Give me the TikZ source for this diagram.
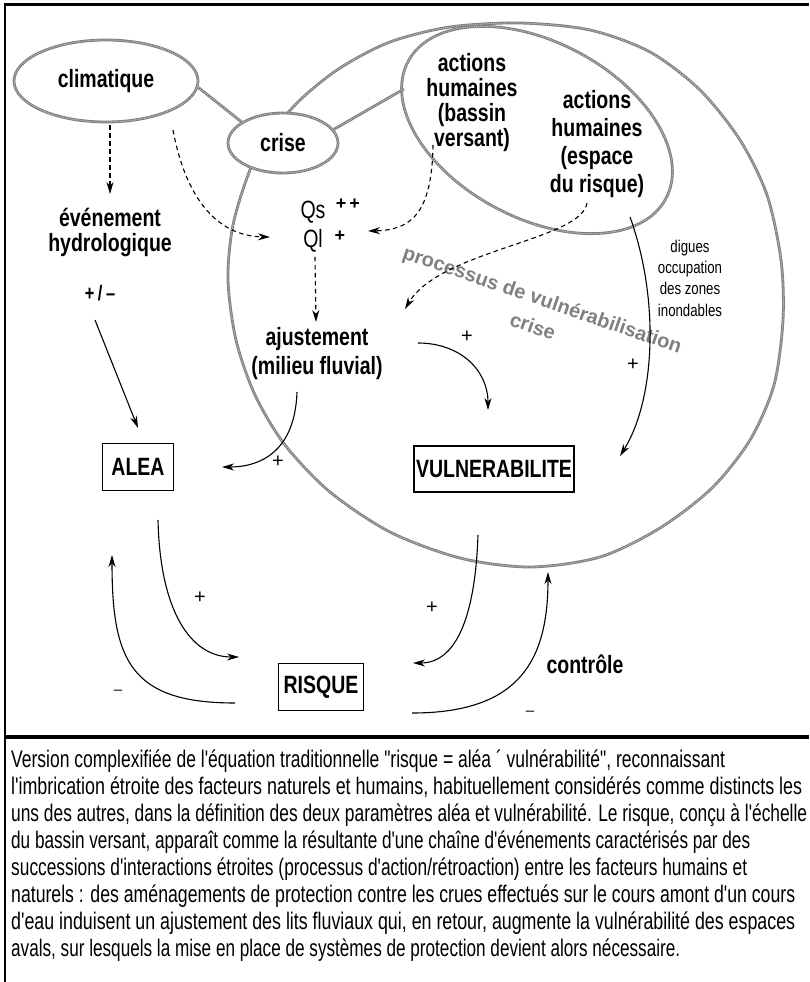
\documentclass[tikz,border=0pt]{standalone}
\usepackage{fontspec}
\usepackage{graphicx}
\setmainfont{Liberation Sans}
\newfontfamily\diaf[FakeStretch=0.78]{Liberation Sans}
\newfontfamily\capf[FakeStretch=0.76]{Liberation Sans}
\usetikzlibrary{shapes.geometric,arrows.meta}
\tikzset{
  rope/.style={draw=black!50, line width=2.8pt, postaction={draw=black!22, line width=0.9pt, dash pattern=on 1pt off 1.2pt}},
  ell/.style={ellipse, rope, fill=white, inner sep=0pt, font=\diaf\bfseries\fontsize{25}{25}\selectfont},
  lab/.style={font=\diaf\bfseries\fontsize{25}{25}\selectfont, inner sep=0pt, align=center},
  boxn/.style={draw, line width=1.3pt, inner sep=0pt, font=\diaf\bfseries\fontsize{25}{25}\selectfont},
  smalltxt/.style={font=\diaf\fontsize{17}{21.3}\selectfont, inner sep=0pt, align=center},
  sign/.style={font=\fontsize{20}{20}\selectfont, inner sep=0pt},
  arr/.style={line width=1.1pt, -{Stealth[length=12pt,width=7pt]}},
  dsh/.style={arr, dash pattern=on 4.5pt off 3.5pt},
  captxt/.style={font=\capf\fontsize{24}{27}\selectfont, anchor=base west, inner sep=0pt},
}
\begin{document}
\begin{tikzpicture}[x=1pt,y=-1pt]
\useasboundingbox (0,0) rectangle (809,982);
% frame
\draw[line width=3pt] (3.5,5) -- (809,5);
\draw[line width=2.5pt] (5,5) -- (5,982);
\draw[line width=3.5pt] (3.5,737) -- (809,737);

% big ellipse
\draw[rope] plot[smooth cycle] coordinates {(250,170) (233,225) (228,280) (236,340) (255,395) (285,445) (330,492) (390,532) (460,558) (530,567) (600,557) (660,528) (712,488) (750,440) (774,385) (783,320) (781,260) (767,195) (740,140) (700,90) (650,52) (590,30) (520,23) (450,27) (390,42) (340,68) (300,100) (270,135)};
% actions humaines ellipse
\draw[rope, rotate around={-28:(537,130)}] (537,130) ellipse [x radius=146, y radius=88];

\node[ell, minimum width=184pt, minimum height=82pt] (clim) at (106,81) {climatique};
\node[ell, minimum width=110pt, minimum height=60pt] (crise) at (283,143) {crise};
\coordinate (ahl) at (404,89);
\draw[rope] (clim.-4) -- (crise.153);
\draw[rope] (crise.15) -- (ahl);

% texts
\node[lab] (ah1) at (472,103) {actions\\humaines\\(bassin\\versant)};
\node[lab, font=\diaf\bfseries\fontsize{25}{28}\selectfont] (ah2) at (597,144) {actions\\humaines\\(espace\\du risque)};
\node[lab] (evt) at (110,232) {événement\\hydrologique};
\node[lab, font=\diaf\bfseries\fontsize{21}{21}\selectfont] (pm) at (100,293) {+\,/\,–};
\node[lab, anchor=base, font=\diaf\fontsize{25}{25}\selectfont] (qs) at (313,218) {Qs};
\node[sign, font=\bfseries\fontsize{18}{18}\selectfont] (qspp) at (348,204) {+\,+};
\node[lab, anchor=base, font=\diaf\fontsize{25}{25}\selectfont] (ql) at (313,247) {Ql};
\node[sign, font=\bfseries\fontsize{18}{18}\selectfont] (qlp) at (340,236) {+};
\node[lab, font=\diaf\bfseries\fontsize{25}{29}\selectfont] (aj) at (317,354) {ajustement\\(milieu fluvial)};
\node[boxn, minimum width=71pt, minimum height=47pt] (alea) at (138,467) {ALEA};
\node[boxn, minimum width=160pt, minimum height=46pt] (vul) at (494,469) {VULNERABILITE};
\node[boxn, minimum width=85pt, minimum height=47pt] (risq) at (321,687) {RISQUE};
\node[lab, anchor=base] (ctrl) at (585,673) {contrôle};
\node[smalltxt] (dig) at (690,278) {digues\\occupation\\des zones\\inondables};
\node[font=\bfseries\fontsize{20}{22}\selectfont, text=black!50, rotate=-19, inner sep=0pt] (proc) at (542,301) {processus de vulnérabilisation};
\node[font=\bfseries\fontsize{20}{22}\selectfont, text=black!50, rotate=-19, inner sep=0pt] (pcr) at (533,326) {crise};

% arrow end coordinates
\coordinate (d1a) at (110,125); \coordinate (d1b) at (110,194);
\coordinate (d2a) at (173,130); \coordinate (d2b) at (270,237);
\coordinate (d3a) at (433,145); \coordinate (d3b) at (368,231);
\coordinate (d4a) at (587,203); \coordinate (d4b) at (405,309);
\coordinate (d5a) at (315,257); \coordinate (d5b) at (316,322);
\coordinate (s1a) at (95,320);  \coordinate (s1b) at (138,428);
\coordinate (s2a) at (297,392); \coordinate (s2b) at (222,467);
\coordinate (s3a) at (418,343); \coordinate (s3b) at (488,410);
\coordinate (s4a) at (630,217); \coordinate (s4b) at (620,456);
\coordinate (s5a) at (158,520); \coordinate (s5b) at (239,657);
\coordinate (s6a) at (235,703); \coordinate (s6b) at (112,555);
\coordinate (s7a) at (478,535); \coordinate (s7b) at (413,663);
\coordinate (s8a) at (412,713); \coordinate (s8b) at (548,572);

% dashed arrows
\draw[dsh] (d1a) -- (d1b);
\draw[dsh] (d2a) .. controls (185,195) and (215,236) .. (d2b);
\draw[dsh] (d3a) .. controls (432,215) and (410,230) .. (d3b);
\draw[dsh] (d4a) .. controls (582,240) and (440,250) .. (d4b);
\draw[dsh] (d5a) -- (d5b);
% solid arrows
\draw[arr] (s1a) -- (s1b);
\draw[arr] (s2a) .. controls (295,450) and (262,467) .. (s2b);
\draw[arr] (s3a) .. controls (460,343) and (488,370) .. (s3b);
\draw[arr] (s4a) .. controls (660,300) and (655,400) .. (s4b);
\draw[arr] (s5a) .. controls (160,610) and (190,657) .. (s5b);
\draw[arr] (s6a) .. controls (130,703) and (112,660) .. (s6b);
\draw[arr] (s7a) .. controls (475,620) and (455,663) .. (s7b);
\draw[arr] (s8a) .. controls (520,713) and (548,660) .. (s8b);

% signs
\node[sign] (p1) at (467,337) {+};
\node[sign] (p2) at (633,365) {+};
\node[sign] (p3) at (278,462) {+};
\node[sign] (p4) at (200,598) {+};
\node[sign] (p5) at (432,608) {+};
\node[sign, font=\fontsize{15}{15}\selectfont] (m1) at (118,692) {–};
\node[sign, font=\fontsize{15}{15}\selectfont] (m2) at (530,713) {–};

% caption
\node[captxt] (c1) at (11,767) {\resizebox{714pt}{\height}{Version complexifiée de l'équation traditionnelle "risque = aléa ´ vulnérabilité", reconnaissant}};
\node[captxt] (c2) at (11,794) {\resizebox{791pt}{\height}{l'imbrication étroite des facteurs naturels et humains, habituellement considérés comme distincts les}};
\node[captxt] (c3) at (11,821) {\resizebox{796pt}{\height}{uns des autres, dans la définition des deux paramètres aléa et vulnérabilité. Le risque, conçu à l'échelle}};
\node[captxt] (c4) at (11,848) {\resizebox{739pt}{\height}{du bassin versant, apparaît comme la résultante d'une chaîne d'événements caractérisés par des}};
\node[captxt] (c5) at (11,875) {\resizebox{736pt}{\height}{successions d'interactions étroites (processus d'action/rétroaction) entre les facteurs humains et}};
\node[captxt] (c6) at (11,902) {\resizebox{784pt}{\height}{naturels : des aménagements de protection contre les crues effectués sur le cours amont d'un cours}};
\node[captxt] (c7) at (11,929) {\resizebox{784pt}{\height}{d'eau induisent un ajustement des lits fluviaux qui, en retour, augmente la vulnérabilité des espaces}};
\node[captxt] (c8) at (11,956) {\resizebox{669pt}{\height}{avals, sur lesquels la mise en place de systèmes de protection devient alors nécessaire.}};
\end{tikzpicture}
\end{document}
